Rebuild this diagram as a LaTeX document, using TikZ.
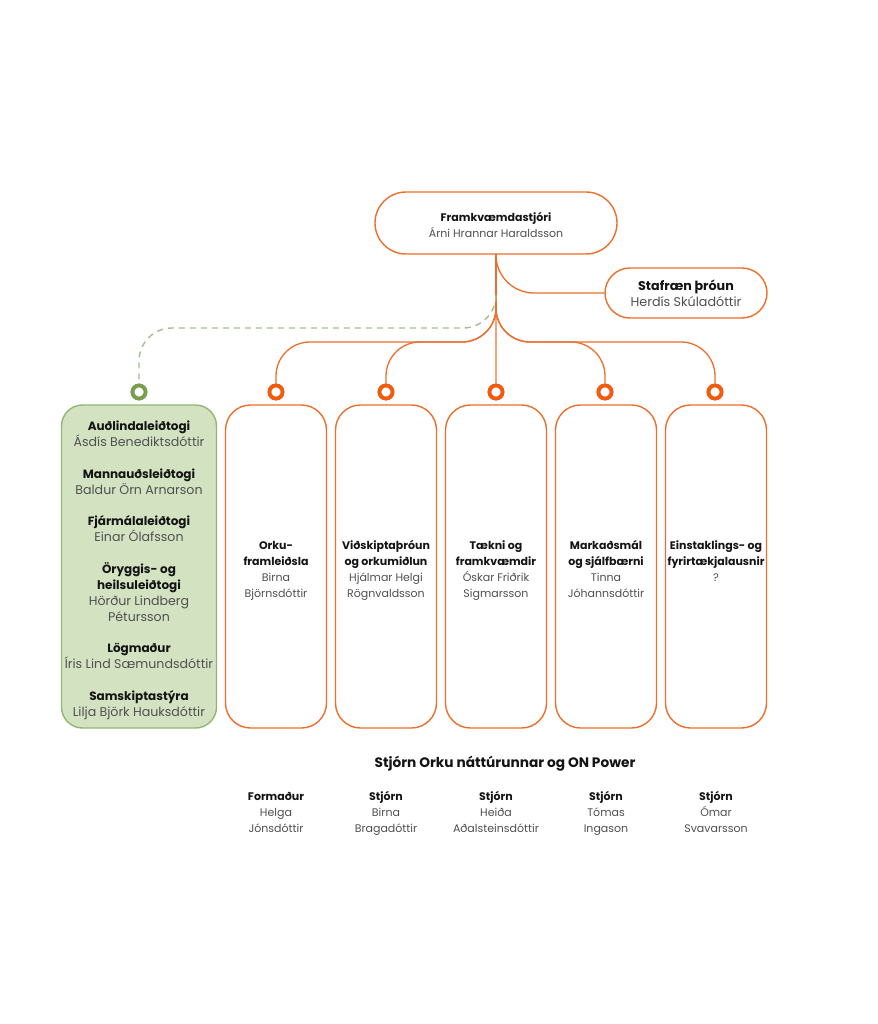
\documentclass[tikz,border=0pt]{standalone}
\usepackage{fontspec}
\setmainfont{Poppins}
\definecolor{orng}{HTML}{EE6E2C}
\definecolor{orngc}{HTML}{F25A0E}
\definecolor{orngl}{HTML}{F3A67C}
\definecolor{grnb}{HTML}{93B675}
\definecolor{grnfill}{HTML}{D3E3C2}
\definecolor{grnc}{HTML}{789E4E}
\definecolor{grnd}{HTML}{A2BE8B}
\definecolor{txtc}{HTML}{141414}
\definecolor{nmc}{HTML}{505050}
\newcommand\hdg[1]{{\bfseries\color{txtc}#1}}
\newcommand\prs[1]{{\color{nmc}#1}}
\newcommand\prsg[1]{{\fontsize{12.6}{16}\selectfont\color{nmc}#1}}
\begin{document}
\begin{tikzpicture}[x=1pt,y=-1pt,
  txt/.style={align=center, inner sep=0pt, anchor=base, font=\fontsize{11}{16}\selectfont},
  pill/.style={draw=orng, line width=1.4pt, fill=white, rounded corners=31pt, minimum width=242pt, minimum height=62pt, inner sep=0pt},
  pillb/.style={draw=orng, line width=1.4pt, fill=white, rounded corners=25pt, minimum width=162pt, minimum height=50pt, inner sep=0pt},
  obox/.style={draw=orng, line width=1.4pt, fill=white, rounded corners=25pt, minimum width=101pt, minimum height=323pt, inner sep=0pt},
  gbox/.style={draw=grnb, line width=1.4pt, fill=grnfill, rounded corners=21pt, minimum width=155pt, minimum height=323pt, inner sep=0pt},
  ring/.style={circle, draw=orngc, line width=3.8pt, fill=white, minimum size=13pt, inner sep=0pt},
  gring/.style={circle, draw=grnc, line width=3.8pt, fill=white, minimum size=13pt, inner sep=0pt},
  conn/.style={draw=orng, line width=1.3pt, rounded corners=34pt},
  connl/.style={draw=orngl, line width=1.3pt},
  gdash/.style={draw=grnd, line width=1.4pt, dash pattern=on 6pt off 5pt, rounded corners=33pt}
]
\useasboundingbox (0,0) rectangle (877,1024);
\fill[white] (0,0) rectangle (877,1024);

% top nodes
\node[pill] (ceo) at (496,223) {};
\node[txt] (ceot) at (496,237) {\hdg{Framkvæmdastjóri}\\\prs{Árni Hrannar Haraldsson}};
\node[pillb] (staf) at (686,293) {};
\node[txt, font=\fontsize{12.7}{15.5}\selectfont] (staft) at (686,306) {\hdg{Stafræn þróun}\\\prs{Herdís Skúladóttir}};

% helper coordinates
\coordinate (hy) at (0,342);
\coordinate (hg) at (0,328);
\coordinate (gd) at (496,295);

% rings
\node[gring] (g)  at (139,392) {};
\node[ring]  (c1) at (276,392) {};
\node[ring]  (c2) at (386,392) {};
\node[ring]  (c3) at (496,392) {};
\node[ring]  (c4) at (605,392) {};
\node[ring]  (c5) at (715,392) {};

% connectors
\draw[connl] (ceo.south) -- (c3.north);
\draw[conn, rounded corners=38pt] (ceo.south) |- (staf.west);
\draw[conn] (ceo.south) -- (ceo.south |- hy) -- (c1.north |- hy) -- (c1.north);
\draw[conn] (ceo.south) -- (ceo.south |- hy) -- (c2.north |- hy) -- (c2.north);
\draw[conn] (ceo.south) -- (ceo.south |- hy) -- (c4.north |- hy) -- (c4.north);
\draw[conn] (ceo.south) -- (ceo.south |- hy) -- (c5.north |- hy) -- (c5.north);
\draw[gdash] (gd) -- (gd |- hg) -- (g.north |- hg) -- (g.north);

% redraw rings on top
\node[gring] at (g) {};
\node[ring] at (c1) {};
\node[ring] at (c2) {};
\node[ring] at (c3) {};
\node[ring] at (c4) {};
\node[ring] at (c5) {};

% boxes
\node[gbox] (gb) at (139,566.5) {};
\node[obox] (b1) at (276,566.5) {};
\node[obox] (b2) at (386,566.5) {};
\node[obox] (b3) at (496,566.5) {};
\node[obox] (b4) at (606,566.5) {};
\node[obox] (b5) at (716,566.5) {};

\node[txt, font=\fontsize{12}{16}\selectfont] (gt) at (139,716) {\hdg{Auðlindaleiðtogi}\\\prsg{Ásdís Benediktsdóttir}\\[15.5pt]
\hdg{Mannauðsleiðtogi}\\\prsg{Baldur Örn Arnarson}\\[15.5pt]
\hdg{Fjármálaleiðtogi}\\\prsg{Einar Ólafsson}\\[15.5pt]
\hdg{Öryggis- og}\\\hdg{heilsuleiðtogi}\\\prsg{Hörður Lindberg}\\\prsg{Pétursson}\\[15.5pt]
\hdg{Lögmaður}\\\prsg{Íris Lind Sæmundsdóttir}\\[15.5pt]
\hdg{Samskiptastýra}\\\prsg{Lilja Björk Hauksdóttir}};

\node[txt] (t1) at (276,597) {\hdg{Orku-}\\\hdg{framleiðsla}\\\prs{Birna}\\\prs{Björnsdóttir}};
\node[txt] (t2) at (386,597) {\hdg{Viðskiptaþróun}\\\hdg{og orkumiðlun}\\\prs{Hjálmar Helgi}\\\prs{Rögnvaldsson}};
\node[txt] (t3) at (496,597) {\hdg{Tækni og}\\\hdg{framkvæmdir}\\\prs{Óskar Friðrik}\\\prs{Sigmarsson}};
\node[txt] (t4) at (606,597) {\hdg{Markaðsmál}\\\hdg{og sjálfbærni}\\\prs{Tinna}\\\prs{Jóhannsdóttir}};
\node[txt] (t5) at (716,581) {\hdg{Einstaklings- og}\\\hdg{fyrirtækjalausnir}\\\prs{?}};

% board
\node[txt, font=\fontsize{13.7}{16}\selectfont] (bt) at (505,767) {\hdg{Stjórn Orku náttúrunnar og ON Power}};
\node[txt] (s1) at (276,832) {\hdg{Formaður}\\\prs{Helga}\\\prs{Jónsdóttir}};
\node[txt] (s2) at (386,832) {\hdg{Stjórn}\\\prs{Birna}\\\prs{Bragadóttir}};
\node[txt] (s3) at (496,832) {\hdg{Stjórn}\\\prs{Heiða}\\\prs{Aðalsteinsdóttir}};
\node[txt] (s4) at (606,832) {\hdg{Stjórn}\\\prs{Tómas}\\\prs{Ingason}};
\node[txt] (s5) at (716,832) {\hdg{Stjórn}\\\prs{Ómar}\\\prs{Svavarsson}};
\end{tikzpicture}
\end{document}
